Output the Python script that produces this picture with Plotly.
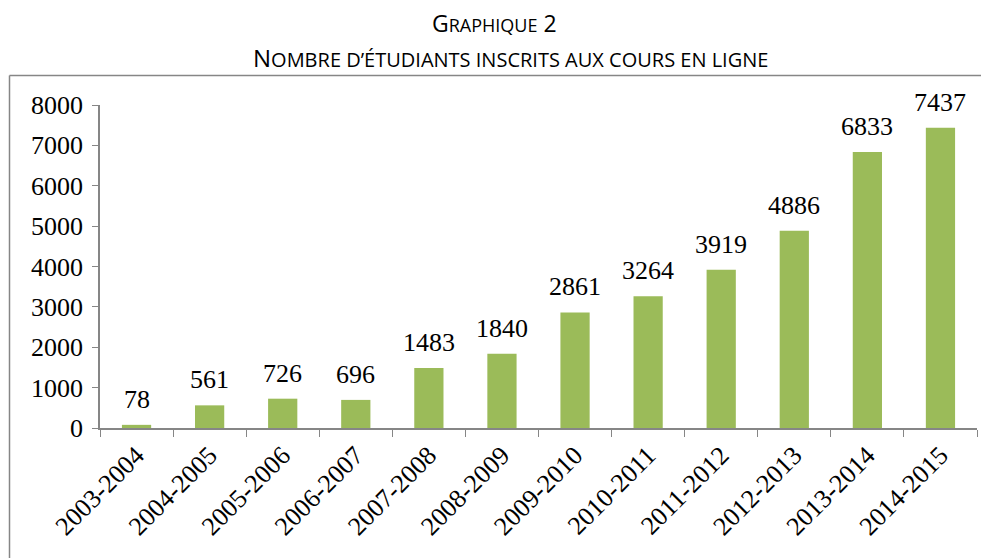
import plotly.graph_objects as go

categories = ["2003-2004", "2004-2005", "2005-2006", "2006-2007", "2007-2008", "2008-2009",
              "2009-2010", "2010-2011", "2011-2012", "2012-2013", "2013-2014", "2014-2015"]
values = [78, 561, 726, 696, 1483, 1840, 2861, 3264, 3919, 4886, 6833, 7437]
y_ticks = [0, 1000, 2000, 3000, 4000, 5000, 6000, 7000, 8000]

OFF = 8  # page body margin
W, H = 989, 558
L, R, T, B = 100 - OFF, 989 - 977 + OFF, 105 - OFF, 558 - 428 + OFF
pw, ph = W - L - R, H - T - B


def px(x):
    return (x - OFF - L) / pw


def py(y):
    return (H - B - (y - OFF)) / ph


fig = go.Figure()
fig.add_trace(go.Bar(x=categories, y=values, marker=dict(color="#9BBB59", line=dict(width=0)),
                     hoverinfo="x+y"))

FS = 26
ann = []
for c, v in zip(categories, values):
    ann.append(dict(x=c, y=v, xref="x", yref="y", text=str(v), showarrow=False,
                    yanchor="bottom", yshift=9,
                    font=dict(family="Liberation Serif", size=FS, color="#000")))


def sc(rest, size):
    return '<span style="font-size:%spx">%s</span>' % (size, rest)


ann.append(dict(x=px(494), y=py(23), xref="paper", yref="paper", showarrow=False,
                text="G" + sc("RAPHIQUE", 18) + " 2", xanchor="center", yanchor="middle",
                font=dict(family="Open Sans", size=23, color="#000")))
ann.append(dict(x=px(510), y=py(57), xref="paper", yref="paper", showarrow=False,
                text="N" + sc("OMBRE D’ÉTUDIANTS INSCRITS AUX COURS EN LIGNE", 20),
                xanchor="center", yanchor="middle",
                font=dict(family="Open Sans", size=24, color="#000")))

shapes = [dict(type="line", xref="paper", yref="paper", x0=px(9.5), x1=px(1010), y0=py(75.5), y1=py(75.5),
               line=dict(color="#868686", width=1.5)),
          dict(type="line", xref="paper", yref="paper", x0=px(9.5), x1=px(9.5), y0=py(75.5), y1=py(620),
               line=dict(color="#868686", width=1.5))]

fig.update_layout(
    width=W, height=H, margin=dict(l=L, r=R, t=T, b=B),
    paper_bgcolor="white", plot_bgcolor="white",
    showlegend=False, bargap=0.6,
    annotations=ann, shapes=shapes,
    xaxis=dict(type="category", tickson="boundaries", ticks="outside", ticklen=7,
               tickcolor="#868686", showline=True, linecolor="#868686", linewidth=1.5,
               tickangle=-45, tickfont=dict(family="Liberation Serif", size=FS, color="#000"),
               showgrid=False),
    yaxis=dict(range=[0, 8000], tickvals=y_ticks, ticks="outside", ticklen=6,
               tickcolor="#868686", showline=True, linecolor="#868686", linewidth=1.5,
               tickfont=dict(family="Liberation Serif", size=FS, color="#000"),
               showgrid=False, zeroline=False, ticklabelstandoff=4),
)

fig.write_html("out.html")
